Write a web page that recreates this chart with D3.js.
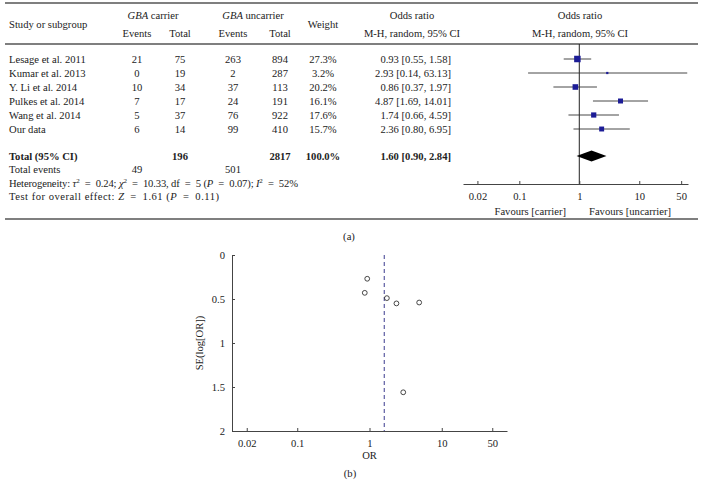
<!DOCTYPE html>
<html>
<head>
<meta charset="utf-8">
<script src="https://cdn.jsdelivr.net/npm/d3@7"></script>
<style>
  body { margin: 0; background: #fff; }
  svg text { font-family: "Liberation Serif", "DejaVu Serif", serif; fill: #222; }
</style>
</head>
<body>
<div id="chart"></div>
<script>
// forest plot (a) and funnel plot (b) for GBA carrier vs uncarrier

var studies = ["Lesage et al. 2011", "Kumar et al. 2013", "Y. Li et al. 2014",
               "Pulkes et al. 2014", "Wang et al. 2014", "Our data"],
    carrierEvents = [21, 0, 10, 7, 5, 6],
    carrierTotal = [75, 19, 34, 17, 37, 14],
    uncarrierEvents = [263, 2, 37, 24, 76, 99],
    uncarrierTotal = [894, 287, 113, 191, 922, 410],
    weights = [27.3, 3.2, 20.2, 16.1, 17.6, 15.7],
    orValues = [0.93, 2.93, 0.86, 4.87, 1.74, 2.36],
    ciLower = [0.55, 0.14, 0.37, 1.69, 0.66, 0.80],
    ciUpper = [1.58, 63.13, 1.97, 14.01, 4.59, 6.95],
    seLogOR = [0.27, 1.56, 0.43, 0.54, 0.49, 0.55],
    pooledOR = [1.60, 0.90, 2.84],   // estimate, lower, upper
    totalRow = ["196", "2817", "100.0%"],
    totalEvents = [49, 501],
    orTicks = [0.02, 0.1, 1, 10, 50],
    seTicks = [0, 0.5, 1, 1.5, 2];

var width = 703, height = 486, fs = 10.6;
var EQ = "\u2002=\u2002";   // wider math spacing round "="

var svg = d3.select("#chart").append("svg")
    .attr("width", width).attr("height", height)
    .style("font-size", fs + "px");

function fmtOR(i){
  return orValues[i].toFixed(2) + " [" + ciLower[i].toFixed(2) + ", " + ciUpper[i].toFixed(2) + "]";
}

// ---- table part -------------------------------------------------------
var rule = function(y, w){
  svg.append("line").attr("x1", 5).attr("x2", 698).attr("y1", y).attr("y2", y)
     .attr("stroke", "#555").attr("stroke-width", w);
};
rule(3, 1.5); rule(44, 1.5); rule(219, 1.5);

var colX = {study: 9, cEv: 137, cTot: 180, uEv: 233, uTot: 280, wt: 323, orR: 451, orH: 412, plot: 580};

svg.append("text").attr("x", colX.study).attr("y", 28).text("Study or subgroup");
var h1 = svg.append("text").attr("x", 153).attr("y", 19).attr("text-anchor", "middle");
h1.append("tspan").style("font-style", "italic").text("GBA");
h1.append("tspan").text(" carrier");
var h2 = svg.append("text").attr("x", 253).attr("y", 19).attr("text-anchor", "middle");
h2.append("tspan").style("font-style", "italic").text("GBA");
h2.append("tspan").text(" uncarrier");
[["Events", colX.cEv], ["Total", colX.cTot], ["Events", colX.uEv], ["Total", colX.uTot]]
  .forEach(function(d){
    svg.append("text").attr("x", d[1]).attr("y", 37).attr("text-anchor", "middle").text(d[0]);
  });
svg.append("text").attr("x", colX.wt).attr("y", 28).attr("text-anchor", "middle").text("Weight");
[colX.orH, colX.plot].forEach(function(x){
  svg.append("text").attr("x", x).attr("y", 19).attr("text-anchor", "middle").text("Odds ratio");
  svg.append("text").attr("x", x).attr("y", 37).attr("text-anchor", "middle").text("M-H, random, 95% CI");
});

var yRow = d3.scalePoint().domain(studies).range([59, 129]);

var rows = svg.selectAll("g.row").data(studies).join("g")
    .attr("class", "row")
    .attr("transform", d => "translate(0," + (yRow(d) + 3.5) + ")");
rows.append("text").attr("x", colX.study).text(d => d);
rows.append("text").attr("x", colX.cEv).attr("text-anchor", "middle").text((d, i) => carrierEvents[i]);
rows.append("text").attr("x", colX.cTot).attr("text-anchor", "middle").text((d, i) => carrierTotal[i]);
rows.append("text").attr("x", colX.uEv).attr("text-anchor", "middle").text((d, i) => uncarrierEvents[i]);
rows.append("text").attr("x", colX.uTot).attr("text-anchor", "middle").text((d, i) => uncarrierTotal[i]);
rows.append("text").attr("x", colX.wt).attr("text-anchor", "middle").text((d, i) => weights[i].toFixed(1) + "%");
rows.append("text").attr("x", colX.orR).attr("text-anchor", "end").text((d, i) => fmtOR(i));

var yTot = 156;
var tot = svg.append("g").attr("transform", "translate(0," + (yTot + 3.5) + ")").style("font-weight", "bold");
tot.append("text").attr("x", colX.study).text("Total (95% CI)");
tot.append("text").attr("x", colX.cTot).attr("text-anchor", "middle").text(totalRow[0]);
tot.append("text").attr("x", colX.uTot).attr("text-anchor", "middle").text(totalRow[1]);
tot.append("text").attr("x", colX.wt).attr("text-anchor", "middle").text(totalRow[2]);
tot.append("text").attr("x", colX.orR).attr("text-anchor", "end")
   .text(pooledOR[0].toFixed(2) + " [" + pooledOR[1].toFixed(2) + ", " + pooledOR[2].toFixed(2) + "]");

svg.append("text").attr("x", colX.study).attr("y", 172.5).text("Total events");
svg.append("text").attr("x", colX.cEv).attr("y", 172.5).attr("text-anchor", "middle").text(totalEvents[0]);
svg.append("text").attr("x", colX.uEv).attr("y", 172.5).attr("text-anchor", "middle").text(totalEvents[1]);

// heterogeneity line with italics and superscripts
var het = svg.append("text").attr("x", colX.study).attr("y", 186.5)
    .attr("textLength", 289).attr("lengthAdjust", "spacing"), shiftBack = 0;
function seg(t, it){
  het.append("tspan").attr("dy", shiftBack || null)
     .style("font-style", it ? "italic" : null).text(t);
  shiftBack = 0;
}
function sup(t){
  het.append("tspan").attr("dy", -4).style("font-size", "7px").text(t);
  shiftBack = 4;
}
seg("Heterogeneity: "); seg("τ", 1); sup("2"); seg(EQ + "0.24; "); seg("χ", 1); sup("2");
seg(EQ + "10.33, df" + EQ + "5 ("); seg("P", 1); seg(EQ + "0.07); "); seg("I", 1); sup("2"); seg(EQ + "52%");

var ov = svg.append("text").attr("x", colX.study).attr("y", 200)
    .attr("textLength", 210).attr("lengthAdjust", "spacing");
ov.append("tspan").text("Test for overall effect: ");
ov.append("tspan").style("font-style", "italic").text("Z");
ov.append("tspan").text(EQ + "1.61 (");
ov.append("tspan").style("font-style", "italic").text("P");
ov.append("tspan").text(EQ + "0.11)");

// ---- forest plot -----------------------------------------------------
var xF = d3.scaleLog().domain([0.0115, 65]).range([463, 688]);
var sqSize = d3.scaleSqrt().domain([0, 27.3]).range([0, 6.5]);
var axisY = 184;

svg.append("line")
   .attr("x1", xF(1)).attr("x2", xF(1)).attr("y1", 44).attr("y2", axisY)
   .attr("stroke", "#222").attr("stroke-width", 1);

var ci = svg.append("g");
ci.selectAll("line").data(studies).join("line")
  .attr("x1", (d, i) => xF(ciLower[i])).attr("x2", (d, i) => xF(ciUpper[i]))
  .attr("y1", d => yRow(d)).attr("y2", d => yRow(d))
  .attr("stroke", "#333").attr("stroke-width", 0.9);
ci.selectAll("rect").data(studies).join("rect")
  .attr("x", (d, i) => xF(orValues[i]) - sqSize(weights[i]) / 2)
  .attr("y", (d, i) => yRow(d) - sqSize(weights[i]) / 2)
  .attr("width", (d, i) => sqSize(weights[i]))
  .attr("height", (d, i) => sqSize(weights[i]))
  .attr("fill", "#1c1c96");

var dh = 5.5;
svg.append("path")
   .attr("d", "M" + xF(pooledOR[1]) + "," + yTot + "L" + xF(pooledOR[0]) + "," + (yTot - dh) +
              "L" + xF(pooledOR[2]) + "," + yTot + "L" + xF(pooledOR[0]) + "," + (yTot + dh) + "Z")
   .attr("fill", "#000");

var fAxis = svg.append("g").attr("transform", "translate(0," + axisY + ")")
   .call(d3.axisBottom(xF).tickValues(orTicks).tickFormat(d3.format("")).tickSizeInner(-3).tickSizeOuter(0).tickPadding(8));
fAxis.select(".domain").attr("stroke", "#444");
fAxis.selectAll(".tick line").attr("stroke", "#444");
fAxis.attr("font-family", null).selectAll("text").style("font-size", fs + "px").attr("fill", "#222");

svg.append("text").attr("x", 566).attr("y", 214.5).attr("text-anchor", "end").text("Favours [carrier]");
svg.append("text").attr("x", 589).attr("y", 214.5).text("Favours [uncarrier]");

svg.append("text").attr("x", 349).attr("y", 240).attr("text-anchor", "middle").text("(a)");

// ---- funnel plot -----------------------------------------------------
var xB = d3.scaleLog().domain([0.0125, 80]).range([232, 507]);
var yB = d3.scaleLinear().domain([0, 2]).range([255, 431]);

svg.append("line")
   .attr("x1", xB(pooledOR[0])).attr("x2", xB(pooledOR[0]))
   .attr("y1", yB(0)).attr("y2", yB(2))
   .attr("stroke", "#3b3b8f").attr("stroke-width", 1).attr("stroke-dasharray", "4,3");

svg.append("g").selectAll("circle").data(studies).join("circle")
   .attr("cx", (d, i) => xB(orValues[i]))
   .attr("cy", (d, i) => yB(seLogOR[i]))
   .attr("r", 2.4)
   .attr("fill", "none").attr("stroke", "#333").attr("stroke-width", 0.9);

var bxAxis = svg.append("g").attr("transform", "translate(0," + yB(2) + ")")
   .call(d3.axisBottom(xB).tickValues(orTicks).tickFormat(d3.format("")).tickSizeInner(-3).tickSizeOuter(0).tickPadding(8));
var byAxis = svg.append("g").attr("transform", "translate(" + xB.range()[0] + ",0)")
   .call(d3.axisLeft(yB).tickValues(seTicks).tickFormat(d3.format("")).tickSizeInner(-3).tickSizeOuter(0).tickPadding(7));
[bxAxis, byAxis].forEach(function(a){
  a.select(".domain").attr("stroke", "#444");
  a.selectAll(".tick line").attr("stroke", "#444");
  a.attr("font-family", null).selectAll("text").style("font-size", fs + "px").attr("fill", "#222");
});

svg.append("text").attr("transform", "translate(203,343) rotate(-90)")
   .attr("text-anchor", "middle").text("SE(log[OR])");
svg.append("text").attr("x", xB(1)).attr("y", 459).attr("text-anchor", "middle").text("OR");
svg.append("text").attr("x", 350).attr("y", 477).attr("text-anchor", "middle").text("(b)");
</script>
</body>
</html>
